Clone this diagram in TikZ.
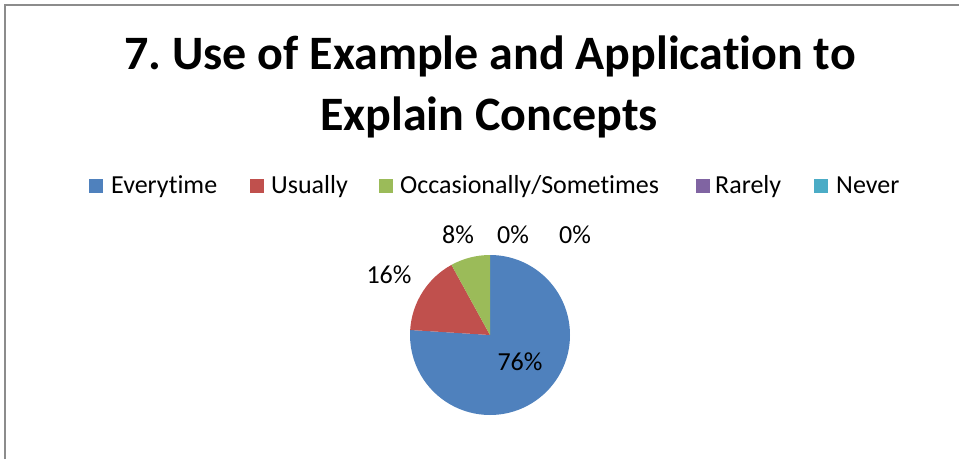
\documentclass[tikz,border=0pt]{standalone}
\usepackage{fontspec}
\setmainfont{Carlito}[Ligatures=NoCommon]
\frenchspacing
\definecolor{cEvery}{HTML}{4F81BD}
\definecolor{cUsual}{HTML}{C0504D}
\definecolor{cOccas}{HTML}{9BBB59}
\definecolor{cRare}{HTML}{8064A2}
\definecolor{cNever}{HTML}{4BACC6}
\definecolor{frame}{HTML}{8C8C8C}
\begin{document}
\begin{tikzpicture}[x=1pt, y=1pt,
    key/.style={minimum size=14pt, inner sep=0pt},
    keytext/.style={anchor=base west, inner sep=0pt, font=\fontsize{26}{30}\selectfont},
    pct/.style={anchor=base, inner sep=0pt, font=\fontsize{26}{30}\selectfont},
    ttl/.style={anchor=base, inner sep=0pt, font=\bfseries\fontsize{48}{56}\selectfont}]
  \useasboundingbox (0,0) rectangle (959,459);
  \draw[frame, line width=2pt] (5,0) coordinate (fb) -- (5,454) coordinate (ft) -- (959,454);
  % title
  \node (title1) at (490,389) [ttl] {7. Use of Example and Application to};
  \node (title2) at (489,329) [ttl] {Explain Concepts};
  % legend
  \node (k1) at (95.5,273.5) [key, fill=cEvery] {};
  \node (t1) at (111,266) [keytext] {Everytime};
  \node (k2) at (256.5,273.5) [key, fill=cUsual] {};
  \node (t2) at (271,266) [keytext] {Usually};
  \node (k3) at (386,273.5) [key, fill=cOccas] {};
  \node (t3) at (400,266) [keytext] {Occasionally/Sometimes};
  \node (k4) at (702.5,273.5) [key, fill=cRare] {};
  \node (t4) at (715,266) [keytext] {Rarely};
  \node (k5) at (820.5,273.5) [key, fill=cNever] {};
  \node (t5) at (836,266) [keytext] {Never};
  % pie
  \coordinate (pc) at (490,124);
  \fill[cEvery] (pc) -- ++(90:80) arc[start angle=90, end angle=-183.6, radius=80] -- cycle;
  \fill[cUsual] (pc) -- ++(-183.6:80) arc[start angle=-183.6, end angle=-241.2, radius=80] -- cycle;
  \fill[cOccas] (pc) -- ++(-241.2:80) arc[start angle=-241.2, end angle=-270, radius=80] -- cycle;
  \node (l1) at (520,89) [pct] {76\%};
  \node (l2) at (389,176) [pct] {16\%};
  \node (l3) at (458,216) [pct] {8\%};
  \node (l4) at (513,216) [pct] {0\%};
  \node (l5) at (575,216) [pct] {0\%};
\end{tikzpicture}
\end{document}
